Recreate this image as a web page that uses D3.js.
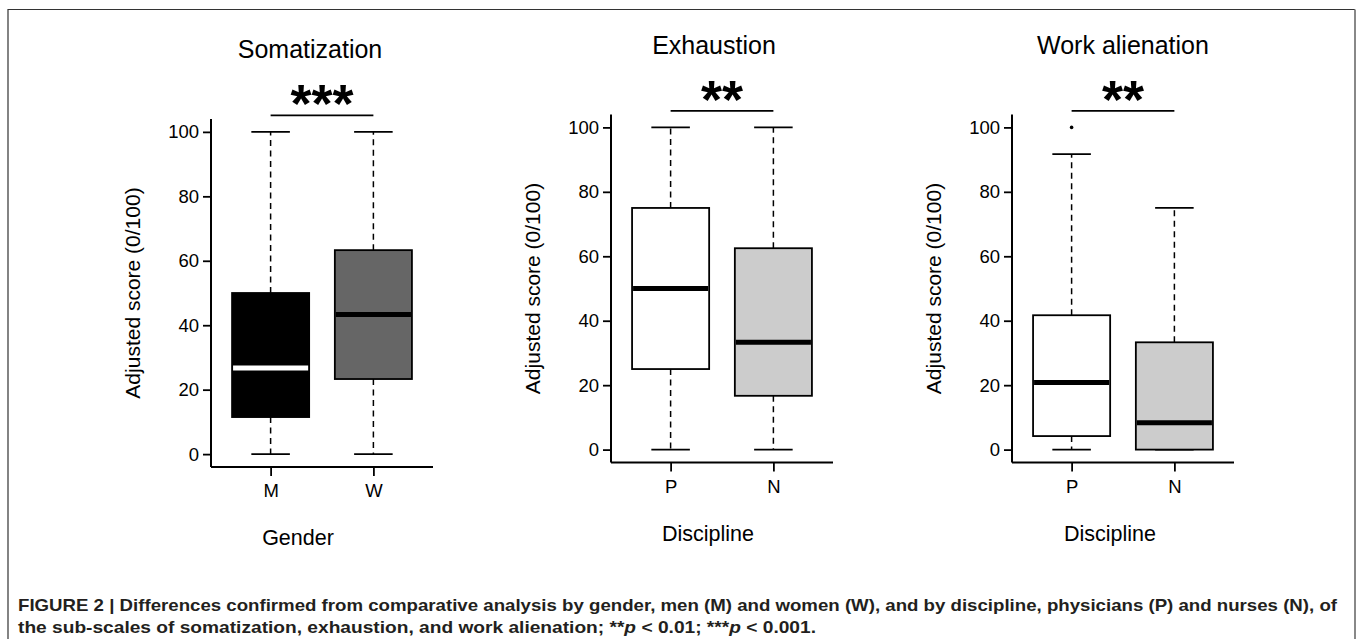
<!DOCTYPE html>
<html>
<head>
<meta charset="utf-8">
<script src="https://cdn.jsdelivr.net/npm/d3@7"></script>
<style>
  body { margin: 0; background: #fff; }
  svg { display: block; font-family: "Liberation Sans", Arial, sans-serif; }
</style>
</head>
<body>
<svg id="fig" width="1357" height="639"></svg>
<script>
// panel content
const titles = ["Somatization", "Exhaustion", "Work alienation"];
const xTitles = ["Gender", "Discipline", "Discipline"];
const groups = [["M", "W"], ["P", "N"], ["P", "N"]];
const stars = ["***", "**", "**"];
const yTicks = [0, 20, 40, 60, 80, 100];

// box stats per panel: [group1, group2]
const lowWhisker = [[0, 0], [0, 0], [0, 0]];
const q1 = [[11.5, 23.3], [25, 16.7], [4.2, 0]];
const median = [[26.7, 43.3], [50, 33.3], [20.8, 8.3]];
const q3 = [[50, 63.3], [75, 62.5], [41.7, 33.3]];
const highWhisker = [[100, 100], [100, 100], [91.7, 75]];
const outliers = [[[], []], [[], []], [[100], []]];

// styles
const boxFill = [["#000000", "#666666"], ["#ffffff", "#cccccc"], ["#ffffff", "#cccccc"]];
const medFill = [["#ffffff", "#000000"], ["#000000", "#000000"], ["#000000", "#000000"]];

// layout of each panel (plot region edges, label nudges)
const layout = [
  {left: 211, top: 119, bottom: 467, titleDx: -12, xlabDx: -24},
  {left: 611, top: 114.5, bottom: 462.5, titleDx: -8, xlabDx: -14},
  {left: 1012, top: 114.5, bottom: 462.5, titleDx: 0, xlabDx: -13}
];
const plotW = 222;

const svg = d3.select("#fig");

// frame
svg.append("path").attr("d", "M8,639V9.5H1355").attr("fill", "none").attr("stroke", "#333").attr("stroke-width", 1.2);
svg.append("line").attr("x1", 1355).attr("x2", 1355).attr("y1", 9.5).attr("y2", 639).attr("stroke", "#888").attr("stroke-width", 2);

titles.forEach(function(title, p) {
  const L = layout[p];
  const x = d3.scaleLinear().domain([0.42, 2.58]).range([L.left, L.left + plotW]);
  const y = d3.scaleLinear().domain([-4, 104]).range([L.bottom, L.top]);
  const unit = x(2) - x(1);
  const g = svg.append("g");
  const midX = x(1.5);

  // title
  g.append("text").attr("x", midX + L.titleDx).attr("y", L.top - 61)
    .attr("text-anchor", "middle").attr("font-size", 25).attr("fill", "#000").text(title);

  // significance bar + stars
  g.append("line").attr("x1", x(1)).attr("x2", x(2)).attr("y1", y(105.1)).attr("y2", y(105.1))
    .attr("stroke", "#000").attr("stroke-width", 1.8);
  g.append("text").attr("x", midX).attr("y", y(105.1) + 7).attr("text-anchor", "middle")
    .attr("font-size", 54).attr("font-weight", "bold").text(stars[p]);

  // y axis
  const yAxis = d3.axisLeft(y).tickValues(yTicks).tickSize(8).tickPadding(4);
  const ya = g.append("g").attr("transform", `translate(${L.left},0)`).call(yAxis);
  ya.select(".domain").attr("d", `M0,${L.bottom}V${L.top}`).attr("stroke-width", 2);
  ya.selectAll(".tick line").attr("stroke-width", 1.8);
  ya.selectAll(".tick text").attr("font-size", 18.5).attr("font-family", "Liberation Sans, Arial, sans-serif").attr("fill", "#000");

  // x axis
  const xAxis = d3.axisBottom(x).tickValues([1, 2]).tickFormat((d, i) => groups[p][i]).tickSize(9).tickPadding(8);
  const xa = g.append("g").attr("transform", `translate(0,${L.bottom})`).call(xAxis);
  xa.select(".domain").attr("d", `M${L.left},0H${L.left + plotW}`).attr("stroke-width", 2);
  xa.selectAll(".tick line").attr("stroke-width", 1.8);
  xa.selectAll(".tick text").attr("font-size", 18.5).attr("font-family", "Liberation Sans, Arial, sans-serif").attr("fill", "#000");

  // axis titles
  g.append("text").attr("transform", `translate(${L.left - 71},${y(50)}) rotate(-90)`)
    .attr("text-anchor", "middle").attr("font-size", 21).text("Adjusted score (0/100)");
  g.append("text").attr("x", midX + L.xlabDx).attr("y", L.bottom + 78)
    .attr("text-anchor", "middle").attr("font-size", 21.5).text(xTitles[p]);

  groups[p].forEach(function(name, i) {
    const cx = x(i + 1);
    const half = unit * 0.375;
    // whiskers
    g.append("line").attr("x1", cx).attr("x2", cx).attr("y1", y(q3[p][i])).attr("y2", y(highWhisker[p][i]))
      .attr("stroke", "#000").attr("stroke-width", 1.5).attr("stroke-dasharray", "6,4.5");
    g.append("line").attr("x1", cx).attr("x2", cx).attr("y1", y(q1[p][i])).attr("y2", y(lowWhisker[p][i]))
      .attr("stroke", "#000").attr("stroke-width", 1.5).attr("stroke-dasharray", "6,4.5");
    [lowWhisker[p][i], highWhisker[p][i]].forEach(function(v) {
      g.append("line").attr("x1", cx - half / 2).attr("x2", cx + half / 2).attr("y1", y(v)).attr("y2", y(v))
        .attr("stroke", "#000").attr("stroke-width", 1.8);
    });
    // box
    g.append("rect").attr("x", cx - half).attr("width", half * 2)
      .attr("y", y(q3[p][i])).attr("height", y(q1[p][i]) - y(q3[p][i]))
      .attr("fill", boxFill[p][i]).attr("stroke", "#000").attr("stroke-width", 1.8);
    // median
    g.append("line").attr("x1", cx - half + 1).attr("x2", cx + half - 1).attr("y1", y(median[p][i])).attr("y2", y(median[p][i]))
      .attr("stroke", medFill[p][i]).attr("stroke-width", 5);
    // outliers
    outliers[p][i].forEach(function(v) {
      g.append("circle").attr("cx", cx).attr("cy", y(v)).attr("r", 1.8).attr("fill", "#000");
    });
  });
});

// caption
const cap = svg.append("g").attr("font-weight", "bold").attr("font-size", 16.5).attr("fill", "#231f20")
  .attr("font-family", "'Liberation Sans Narrow', 'Liberation Sans', Arial, sans-serif");
cap.append("text").attr("x", 18).attr("y", 611).attr("textLength", 1319).attr("lengthAdjust", "spacingAndGlyphs")
  .text("FIGURE 2 | Differences confirmed from comparative analysis by gender, men (M) and women (W), and by discipline, physicians (P) and nurses (N), of");
const line2 = cap.append("text").attr("x", 18).attr("y", 633).attr("textLength", 798).attr("lengthAdjust", "spacingAndGlyphs");
line2.append("tspan").text("the sub-scales of somatization, exhaustion, and work alienation; **");
line2.append("tspan").attr("font-style", "italic").text("p");
line2.append("tspan").text(" < 0.01; ***");
line2.append("tspan").attr("font-style", "italic").text("p");
line2.append("tspan").text(" < 0.001.");
</script>
</body>
</html>
